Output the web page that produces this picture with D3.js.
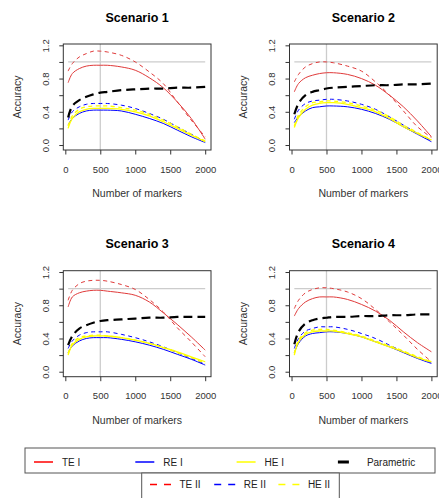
<!DOCTYPE html>
<html>
<head>
<meta charset="utf-8">
<script src="https://cdn.jsdelivr.net/npm/d3@7"></script>
<style>
  body { margin: 0; background: #fff; }
  svg { display: block; font-family: "Liberation Sans", Arial, sans-serif; }
</style>
</head>
<body>
<div id="chart"></div>
<script>
// number of markers (x positions of every curve)
var markers = [40, 100, 200, 300, 400, 500, 600, 800, 1000, 1200, 1400, 1600, 1800, 2000];

var scenarios = ["Scenario 1", "Scenario 2", "Scenario 3", "Scenario 4"];

// one row per scenario
var teI = [
  [0.75, 0.86, 0.92, 0.95, 0.96, 0.96, 0.96, 0.94, 0.90, 0.81, 0.69, 0.52, 0.32, 0.07],
  [0.64, 0.74, 0.81, 0.84, 0.86, 0.87, 0.87, 0.85, 0.80, 0.72, 0.60, 0.46, 0.29, 0.10],
  [0.78, 0.90, 0.95, 0.97, 0.98, 0.98, 0.97, 0.95, 0.92, 0.84, 0.71, 0.57, 0.42, 0.26],
  [0.67, 0.76, 0.84, 0.88, 0.90, 0.90, 0.90, 0.87, 0.81, 0.73, 0.62, 0.48, 0.35, 0.24]
];
var teII = [
  [0.89, 0.98, 1.06, 1.10, 1.13, 1.13, 1.12, 1.08, 1.00, 0.88, 0.74, 0.52, 0.30, 0.10],
  [0.76, 0.85, 0.94, 0.98, 1.00, 1.00, 0.99, 0.95, 0.89, 0.76, 0.60, 0.41, 0.22, 0.09],
  [0.86, 0.98, 1.06, 1.09, 1.10, 1.10, 1.09, 1.05, 0.99, 0.87, 0.72, 0.53, 0.36, 0.18],
  [0.76, 0.86, 0.95, 0.99, 1.01, 1.01, 1.00, 0.96, 0.88, 0.75, 0.60, 0.44, 0.27, 0.12]
];
var reI = [
  [0.24, 0.32, 0.38, 0.41, 0.42, 0.42, 0.42, 0.41, 0.37, 0.32, 0.26, 0.18, 0.10, 0.03],
  [0.27, 0.34, 0.41, 0.45, 0.46, 0.47, 0.47, 0.46, 0.43, 0.38, 0.31, 0.22, 0.13, 0.04],
  [0.23, 0.31, 0.37, 0.40, 0.41, 0.41, 0.41, 0.39, 0.36, 0.32, 0.27, 0.21, 0.15, 0.08],
  [0.23, 0.34, 0.43, 0.46, 0.47, 0.48, 0.48, 0.46, 0.42, 0.36, 0.30, 0.23, 0.16, 0.10]
];
var reII = [
  [0.30, 0.40, 0.46, 0.49, 0.50, 0.50, 0.50, 0.48, 0.44, 0.38, 0.31, 0.22, 0.13, 0.04],
  [0.31, 0.42, 0.50, 0.53, 0.54, 0.55, 0.55, 0.53, 0.49, 0.43, 0.34, 0.24, 0.14, 0.05],
  [0.28, 0.37, 0.44, 0.47, 0.48, 0.48, 0.48, 0.45, 0.41, 0.36, 0.30, 0.23, 0.16, 0.09],
  [0.28, 0.40, 0.49, 0.52, 0.54, 0.54, 0.54, 0.51, 0.46, 0.40, 0.32, 0.24, 0.17, 0.11]
];
var heI = [
  [0.20, 0.32, 0.40, 0.43, 0.44, 0.44, 0.44, 0.43, 0.40, 0.35, 0.28, 0.20, 0.12, 0.04],
  [0.21, 0.33, 0.43, 0.48, 0.50, 0.51, 0.51, 0.49, 0.45, 0.40, 0.32, 0.22, 0.14, 0.06],
  [0.20, 0.32, 0.39, 0.42, 0.43, 0.43, 0.43, 0.41, 0.38, 0.34, 0.29, 0.24, 0.18, 0.12],
  [0.20, 0.36, 0.45, 0.48, 0.49, 0.49, 0.49, 0.46, 0.42, 0.36, 0.30, 0.24, 0.17, 0.12]
];
var heII = [
  [0.23, 0.35, 0.43, 0.46, 0.47, 0.47, 0.47, 0.45, 0.42, 0.37, 0.30, 0.22, 0.13, 0.05],
  [0.23, 0.36, 0.46, 0.51, 0.52, 0.53, 0.53, 0.51, 0.47, 0.42, 0.34, 0.24, 0.15, 0.06],
  [0.22, 0.34, 0.41, 0.43, 0.44, 0.44, 0.43, 0.41, 0.38, 0.34, 0.29, 0.23, 0.17, 0.10],
  [0.22, 0.38, 0.47, 0.50, 0.51, 0.51, 0.50, 0.47, 0.43, 0.37, 0.31, 0.25, 0.18, 0.12]
];
var parametric = [
  [0.33, 0.47, 0.54, 0.58, 0.61, 0.63, 0.64, 0.66, 0.67, 0.68, 0.68, 0.69, 0.69, 0.70],
  [0.37, 0.50, 0.60, 0.64, 0.66, 0.68, 0.69, 0.70, 0.71, 0.72, 0.72, 0.73, 0.73, 0.74],
  [0.32, 0.43, 0.52, 0.56, 0.59, 0.61, 0.62, 0.63, 0.64, 0.65, 0.65, 0.66, 0.66, 0.66],
  [0.33, 0.48, 0.58, 0.62, 0.64, 0.65, 0.66, 0.66, 0.67, 0.67, 0.68, 0.68, 0.69, 0.69]
];

var xTicks = [0, 500, 1000, 1500, 2000];
var yTicks = [0, 0.2, 0.4, 0.6, 0.8, 1.0, 1.2];
var yLabelled = [0, 0.4, 0.8, 1.2];

var legendTop = ["TE I", "RE I", "HE I", "Parametric"];
var legendBottom = ["TE II", "RE II", "HE II"];

// series styles, drawn in this order
var series = [
  {values: reI, color: "#0000ff", width: 1, dash: null},
  {values: reII, color: "#0000ff", width: 1, dash: "4,3.5"},
  {values: heI, color: "#ffff00", width: 1.3, dash: null},
  {values: heII, color: "#ffff00", width: 1.3, dash: "4,3.5"},
  {values: teI, color: "#e03a3a", width: 1, dash: null},
  {values: teII, color: "#e03a3a", width: 1, dash: "4,3.5"},
  {values: parametric, color: "#000", width: 2.2, dash: "9,5"}
];

var width = 439, height = 498,
    panel_dx = 226.2, panel_dy = 226.7,
    box = {left: 63.3, right: 211, top: 44, bottom: 150},
    axis_col = "#333";

var svg = d3.select("#chart").append("svg")
    .attr("width", width)
    .attr("height", height);

var x = d3.scaleLinear()
    .domain([-29, 2083])
    .range([box.left, box.right]);

var y = d3.scaleLinear()
    .domain([-0.06, 1.216])
    .range([box.bottom, box.top]);

var line = d3.line()
    .x(function (d) { return x(d[0]); })
    .y(function (d) { return y(d[1]); })
    .curve(d3.curveCatmullRom.alpha(0.5));

scenarios.forEach(function (name, i) {
  var g = svg.append("g")
      .attr("transform", "translate(" + (i % 2) * panel_dx + "," + Math.floor(i / 2) * panel_dy + ")");

  // reference lines
  g.append("line")
      .attr("x1", x(500)).attr("x2", x(500))
      .attr("y1", box.top).attr("y2", box.bottom)
      .attr("stroke", "#cccccc").attr("stroke-width", 1.3);

  g.append("line")
      .attr("x1", x(markers[0])).attr("x2", x(markers[markers.length - 1]))
      .attr("y1", y(1)).attr("y2", y(1))
      .attr("stroke", "#cccccc").attr("stroke-width", 1.3);

  series.forEach(function (s) {
    var pts = markers.map(function (m, j) { return [m, s.values[i][j]]; });
    g.append("path")
        .attr("d", line(pts))
        .attr("fill", "none")
        .attr("stroke", s.color)
        .attr("stroke-width", s.width)
        .attr("stroke-dasharray", s.dash);
  });

  // axes
  var xAxis = g.append("g")
      .attr("transform", "translate(0," + box.bottom + ")")
      .call(d3.axisBottom(x).tickValues(xTicks).tickSize(4.5).tickSizeOuter(0).tickFormat(d3.format("d")));

  var yAxis = g.append("g")
      .attr("transform", "translate(" + box.left + ",0)")
      .call(d3.axisLeft(y).tickValues(yTicks).tickSize(4).tickSizeOuter(0)
          .tickFormat(function (d) {
            return yLabelled.indexOf(d) >= 0 ? d3.format(".1f")(d) : "";
          }));

  [xAxis, yAxis].forEach(function (a) {
    a.select(".domain").remove();
    a.selectAll(".tick line").attr("stroke", axis_col);
    a.selectAll(".tick text")
        .attr("fill", axis_col)
        .style("font-size", "9.5px")
        .style("font-family", "'Liberation Sans', Arial, sans-serif");
  });

  xAxis.selectAll(".tick text").attr("y", 0).attr("dy", 0)
      .attr("transform", "translate(0,22.5)");

  yAxis.selectAll(".tick text")
      .attr("transform", "rotate(-90)")
      .attr("x", 0)
      .attr("y", -14.8)
      .attr("dy", 0)
      .style("text-anchor", "middle");

  // frame
  g.append("rect")
      .attr("x", box.left).attr("y", box.top)
      .attr("width", box.right - box.left)
      .attr("height", box.bottom - box.top)
      .attr("fill", "none")
      .attr("stroke", axis_col)
      .attr("stroke-width", 1);

  g.append("text")
      .attr("x", (box.left + box.right) / 2)
      .attr("y", 21.5)
      .attr("text-anchor", "middle")
      .style("font-size", "12.5px")
      .style("font-weight", "bold")
      .text(name);

  g.append("text")
      .attr("x", (box.left + box.right) / 2)
      .attr("y", 197)
      .attr("text-anchor", "middle")
      .attr("fill", axis_col)
      .style("font-size", "10.5px")
      .text("Number of markers");

  g.append("text")
      .attr("transform", "translate(21," + (box.top + box.bottom) / 2 + ") rotate(-90)")
      .attr("text-anchor", "middle")
      .attr("fill", axis_col)
      .style("font-size", "10.5px")
      .text("Accuracy");
});

// legends
var top_colors = ["#ff0000", "#0000ff", "#ffff00", "#000"];
var bottom_colors = ["#ff0000", "#0000ff", "#ffff00"];

var leg1 = svg.append("g");
leg1.append("rect")
    .attr("x", 25).attr("y", 448)
    .attr("width", 410).attr("height", 25)
    .attr("fill", "#fff").attr("stroke", "#555");

legendTop.forEach(function (label, i) {
  var lx = 34 + i * 101.3;
  leg1.append("line")
      .attr("x1", lx).attr("x2", lx + (i === 3 ? 20 : 19))
      .attr("y1", 462).attr("y2", 462)
      .attr("stroke", top_colors[i])
      .attr("stroke-width", i === 3 ? 3 : 1.5)
      .attr("stroke-dasharray", i === 3 ? "11,12" : null);
  leg1.append("text")
      .attr("x", lx + (i === 3 ? 29 : 28))
      .attr("y", 465.5)
      .attr("fill", "#222")
      .style("font-size", "10px")
      .text(label);
});

var leg2 = svg.append("g");
leg2.append("rect")
    .attr("x", 141.7).attr("y", 473)
    .attr("width", 197.6).attr("height", 32)
    .attr("fill", "#fff").attr("stroke", "#555");

legendBottom.forEach(function (label, i) {
  var lx = 150 + i * 64.2;
  leg2.append("line")
      .attr("x1", lx).attr("x2", lx + 21)
      .attr("y1", 484.5).attr("y2", 484.5)
      .attr("stroke", bottom_colors[i])
      .attr("stroke-width", 1.5)
      .attr("stroke-dasharray", "7,7");
  leg2.append("text")
      .attr("x", lx + 29.5)
      .attr("y", 488)
      .attr("fill", "#222")
      .style("font-size", "10px")
      .text(label);
});
</script>
</body>
</html>
